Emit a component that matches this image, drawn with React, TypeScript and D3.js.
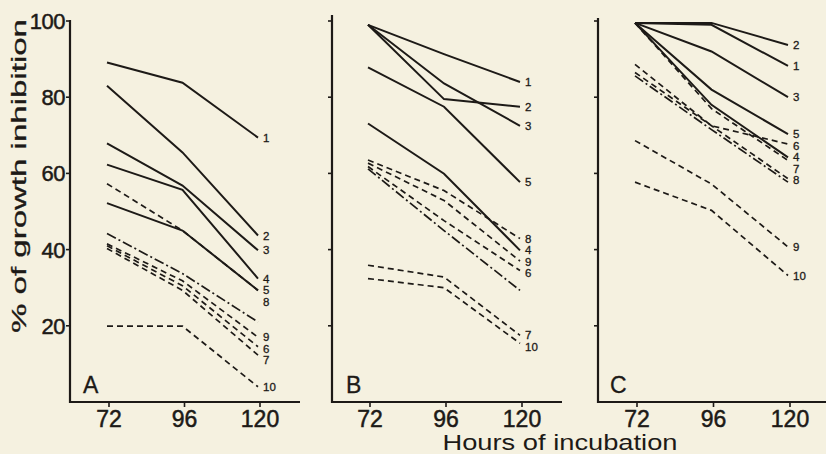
import React from 'react';
import * as d3 from 'd3';

// hours of incubation on the x axis
const hours = [72, 96, 120];
const yTickValues = [20, 40, 60, 80, 100];
const panelNames = ['A', 'B', 'C'];

// % growth inhibition at 72, 96 and 120 h; key "x" is the unlabelled dash-dot curve
const seriesA = [
  { key: '1', values: [89.1, 83.8, 69.4] },
  { key: '2', values: [83, 65.5, 43.7] },
  { key: '3', values: [67.9, 56.8, 39.8] },
  { key: '4', values: [62.3, 55.7, 32.4] },
  { key: '5', values: [52.2, 45, 29.3] },
  { key: '8', values: [57.3, 45, 29.3] },
  { key: 'x', values: [44.2, 33.7, 21] },
  { key: '9', values: [41.5, 31.8, 17] },
  { key: '6', values: [41, 30.5, 14.5] },
  { key: '7', values: [40.3, 29.3, 12.3] },
  { key: '10', values: [19.9, 19.9, 4] },
];

const seriesB = [
  { key: '1', values: [99, 91.3, 84] },
  { key: '2', values: [99, 79.5, 77.5] },
  { key: '3', values: [99, 83.6, 72.5] },
  { key: '5', values: [87.8, 77.5, 57.7] },
  { key: '4', values: [73.1, 59.9, 39.8] },
  { key: '8', values: [63.5, 55.5, 42.9] },
  { key: '9', values: [62.7, 52.9, 37] },
  { key: '6', values: [61.8, 47.6, 34.5] },
  { key: 'x', values: [61.2, 45, 29.3] },
  { key: '7', values: [35.9, 32.8, 17.5] },
  { key: '10', values: [32.4, 30, 15.4] },
];

const seriesC = [
  { key: '2', values: [99.5, 99.5, 93.7] },
  { key: '1', values: [99.5, 99, 88.2] },
  { key: '3', values: [99.5, 92, 80] },
  { key: '5', values: [99.5, 82, 70.3] },
  { key: '6', values: [88.6, 72.5, 67.7] },
  { key: '4', values: [99.5, 78, 64.2] },
  { key: '7', values: [99.5, 77, 63.4] },
  { key: '8', values: [86.5, 72.5, 58.6] },
  { key: 'x', values: [85.6, 71.5, 57.7] },
  { key: '9', values: [68.6, 57.2, 40.7] },
  { key: '10', values: [57.7, 50.3, 33.2] },
];

const allSeries = [seriesA, seriesB, seriesC];

const lineStyle: Record<string, string> = {
  '1': 'solid', '2': 'solid', '3': 'solid', '4': 'solid', '5': 'solid',
  '6': 'dashed', '7': 'dashed', '8': 'dashed', '9': 'dashed', '10': 'dashed',
  x: 'dashdot',
};
const dashArray: Record<string, string | undefined> = {
  solid: undefined,
  dashed: '6 4',
  dashdot: '10 3 2 3',
};

const W = 826;
const H = 454;
const baseY = 402;
const ink = '#1d1a17';
const paper = '#f5f1e0';
const font = '"Liberation Sans", Arial, Helvetica, sans-serif';

// where each panel sits on the page
const layout = [
  { axisX: 70, x0: 107, x1: 258, axisEnd: 300, top: 20, letterX: 83 },
  { axisX: 332, x0: 368, x1: 520, axisEnd: 562, top: 15, letterX: 346 },
  { axisX: 598, x0: 635, x1: 788, axisEnd: 826, top: 18, letterX: 610 },
];

const y = d3.scaleLinear().domain([0, 100]).range([baseY, 21]);

function Panel({ idx }: { idx: number }) {
  const L = layout[idx];
  const series = allSeries[idx];
  const x = d3.scaleLinear().domain([72, 120]).range([L.x0, L.x1]);
  const line = d3
    .line<number>()
    .x((_, i) => x(hours[i]))
    .y((v) => y(v));

  // end labels, nudged apart so they do not collide
  const labels = series
    .filter((s) => s.key !== 'x')
    .map((s, i) => ({ key: s.key, yy: y(s.values[2]), order: i }))
    .sort((a, b) => a.yy - b.yy || a.order - b.order);
  let prev = -Infinity;
  labels.forEach((l) => {
    l.yy = Math.max(l.yy, prev + 11.5);
    prev = l.yy;
  });

  return (
    <g>
      <line x1={L.axisX} y1={L.top} x2={L.axisX} y2={baseY + 1} stroke={ink} strokeWidth={2.2} />
      <line x1={L.axisX - 1} y1={baseY} x2={L.axisEnd} y2={baseY} stroke={ink} strokeWidth={2.2} />
      {yTickValues.map((t) => (
        <line key={t} x1={L.axisX - 4} x2={L.axisX} y1={y(t)} y2={y(t)} stroke={ink} strokeWidth={1.6} />
      ))}
      {idx === 0 &&
        yTickValues.map((t) => (
          <text
            key={t}
            x={L.axisX - 5}
            y={y(t) + 8}
            textAnchor="end"
            fontSize={22}
            fontFamily={font}
            fill={ink}
            stroke={ink}
            strokeWidth={0.5}
            letterSpacing={-0.5}
          >
            {t}
          </text>
        ))}
      {hours.map((h) => (
        <g key={h}>
          <line x1={x(h) + 2} x2={x(h) + 2} y1={baseY} y2={baseY + 5} stroke={ink} strokeWidth={1.6} />
          <text
            x={x(h) + 2}
            y={427}
            textAnchor="middle"
            fontSize={23}
            fontFamily={font}
            fill={ink}
            stroke={ink}
            strokeWidth={0.5}
          >
            {h}
          </text>
        </g>
      ))}
      <text x={L.letterX} y={393} fontSize={23} fontFamily={font} fill={ink} stroke={ink} strokeWidth={0.3}>
        {panelNames[idx]}
      </text>
      {series.map((s) => (
        <path
          key={s.key}
          d={line(s.values) || ''}
          fill="none"
          stroke={ink}
          strokeWidth={lineStyle[s.key] === 'solid' ? 2 : 1.7}
          strokeDasharray={dashArray[lineStyle[s.key]]}
        />
      ))}
      {labels.map((l) => (
        <text
          key={l.key}
          x={L.x1 + 5}
          y={l.yy + 4}
          fontSize={11.5}
          fontFamily={font}
          fill={ink}
          stroke={ink}
          strokeWidth={0.3}
        >
          {l.key}
        </text>
      ))}
    </g>
  );
}

export default function App() {
  return (
    <svg
      width={W}
      height={H}
      style={{ position: 'absolute', left: 0, top: 0, background: paper }}
    >
      <rect width={W} height={H} fill={paper} />
      {panelNames.map((_, i) => (
        <Panel key={i} idx={i} />
      ))}
      <text
        transform="translate(26,176) rotate(-90)"
        textAnchor="middle"
        fontSize={21}
        fontFamily={font}
        fill={ink}
        stroke={ink}
        strokeWidth={0.3}
        textLength={314}
        lengthAdjust="spacingAndGlyphs"
      >
        % of growth inhibition
      </text>
      <text
        x={560}
        y={450}
        textAnchor="middle"
        fontSize={22}
        fontFamily={font}
        fill={ink}
        textLength={235}
        lengthAdjust="spacingAndGlyphs"
      >
        Hours of incubation
      </text>
    </svg>
  );
}
